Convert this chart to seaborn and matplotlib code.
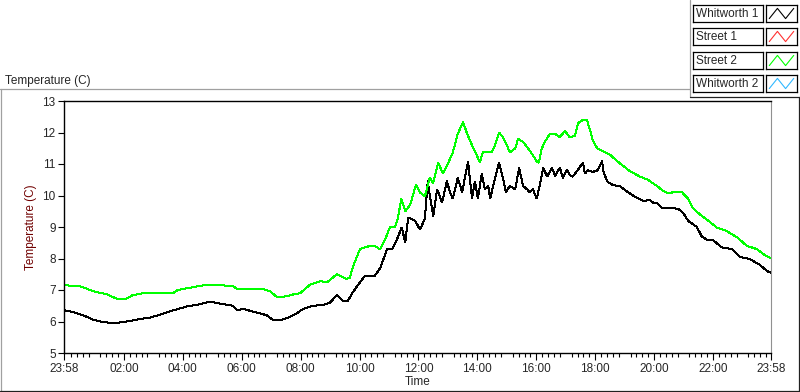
"""Daily temperature trace, LabVIEW-style panel with Whitworth/Street sensors."""
import matplotlib
matplotlib.use("Agg")
import matplotlib.dates as mdates
import matplotlib.pyplot as plt
import matplotlib.ticker as mticker
import pandas as pd
import seaborn as sns
from matplotlib.lines import Line2D

# ── data ──────────────────────────────────────────────────────────────
sensors = ["Whitworth 1", "Street 1", "Street 2", "Whitworth 2"]
colors = ["#000000", "#ff3030", "#00ff00", "#30b8ff"]

whitworth1_time = [
    "23:58", "00:16", "00:37", "00:57", "01:17", "01:42", "02:06", "02:33", "02:53",
    "03:14", "03:40", "04:09", "04:35", "04:55", "05:22", "05:42", "05:50", "06:03",
    "06:31", "06:51", "07:04", "07:18", "07:34", "07:53", "08:05", "08:25", "08:45",
    "09:00", "09:14", "09:26", "09:36", "09:45", "09:55", "10:11", "10:21", "10:31",
    "10:42", "10:56", "11:06", "11:16", "11:26", "11:33", "11:39", "11:53", "12:03",
    "12:13", "12:19", "12:23", "12:30", "12:38", "12:48", "12:58", "13:04", "13:10",
    "13:20", "13:29", "13:35", "13:41", "13:49", "13:55", "14:01", "14:09", "14:15",
    "14:22", "14:26", "14:36", "14:44", "14:52", "14:58", "15:06", "15:17", "15:25",
    "15:33", "15:41", "15:47", "15:53", "16:01", "16:07", "16:14", "16:22", "16:32",
    "16:38", "16:48", "16:54", "17:02", "17:08", "17:14", "17:23", "17:35", "17:39",
    "17:45", "17:55", "18:05", "18:14", "18:16", "18:24", "18:36", "18:50", "19:05",
    "19:17", "19:37", "19:52", "19:58", "20:06", "20:16", "20:32", "20:49", "20:59",
    "21:09", "21:27", "21:37", "21:47", "22:00", "22:18", "22:38", "22:55", "23:15",
    "23:35", "23:50", "23:58",
]
whitworth1_temp = [
    6.36, 6.30, 6.20, 6.06, 5.98, 5.95, 6.00, 6.08, 6.12,
    6.22, 6.35, 6.48, 6.55, 6.63, 6.55, 6.50, 6.36, 6.40,
    6.28, 6.20, 6.04, 6.04, 6.12, 6.27, 6.40, 6.50, 6.52,
    6.60, 6.85, 6.65, 6.65, 6.90, 7.12, 7.45, 7.44, 7.45,
    7.70, 8.29, 8.29, 8.60, 8.99, 8.50, 9.30, 9.20, 8.92,
    9.26, 10.46, 10.00, 9.35, 10.20, 9.77, 10.46, 10.10, 9.90,
    10.56, 10.10, 10.60, 11.08, 9.90, 10.45, 9.90, 10.70, 10.20,
    10.30, 9.90, 10.56, 11.04, 10.56, 10.10, 10.30, 10.20, 10.88,
    10.30, 10.20, 10.10, 10.20, 9.90, 10.33, 10.88, 10.60, 10.88,
    10.62, 10.88, 10.56, 10.82, 10.65, 10.60, 10.78, 11.04, 10.70,
    10.80, 10.75, 10.80, 11.10, 10.80, 10.45, 10.33, 10.30, 10.12,
    10.00, 9.83, 9.85, 9.77, 9.75, 9.60, 9.60, 9.58, 9.45,
    9.20, 9.00, 8.70, 8.60, 8.58, 8.35, 8.30, 8.05, 7.98,
    7.80, 7.60, 7.55,
]

street2_time = [
    "23:58", "00:24", "00:35", "00:57", "01:26", "01:46", "02:06", "02:17", "02:39",
    "03:40", "03:50", "04:21", "04:49", "05:16", "05:42", "05:50", "06:17", "06:43",
    "06:58", "07:12", "07:32", "07:45", "07:59", "08:19", "08:40", "08:54", "09:06",
    "09:14", "09:34", "09:40", "09:47", "10:01", "10:21", "10:31", "10:42", "10:52",
    "11:02", "11:12", "11:18", "11:25", "11:33", "11:43", "11:49", "11:55", "12:03",
    "12:13", "12:23", "12:30", "12:40", "12:50", "12:58", "13:10", "13:20", "13:31",
    "13:39", "13:49", "13:59", "14:05", "14:11", "14:22", "14:29", "14:36", "14:44",
    "14:52", "15:00", "15:06", "15:17", "15:23", "15:33", "15:43", "15:53", "16:01",
    "16:05", "16:11", "16:17", "16:28", "16:38", "16:48", "16:58", "17:08", "17:19",
    "17:25", "17:35", "17:43", "17:49", "17:55", "18:04", "18:16", "18:30", "18:44",
    "18:56", "19:11", "19:31", "19:47", "20:06", "20:18", "20:28", "20:38", "20:57",
    "21:09", "21:19", "21:33", "21:50", "22:08", "22:28", "22:49", "23:09", "23:29",
    "23:46", "23:58",
]
street2_temp = [
    7.15, 7.13, 7.10, 6.96, 6.86, 6.72, 6.73, 6.83, 6.90,
    6.90, 7.00, 7.09, 7.17, 7.15, 7.13, 7.04, 7.04, 7.03,
    6.96, 6.77, 6.80, 6.86, 6.90, 7.17, 7.28, 7.25, 7.40,
    7.50, 7.35, 7.39, 7.76, 8.30, 8.40, 8.40, 8.29, 8.60,
    9.00, 9.00, 9.27, 9.90, 9.50, 9.70, 10.02, 10.35, 10.10,
    9.97, 10.56, 10.40, 11.04, 10.70, 10.94, 11.37, 11.96, 12.33,
    11.96, 11.60, 11.27, 11.04, 11.37, 11.37, 11.37, 11.60, 12.00,
    11.85, 11.60, 11.37, 11.50, 11.80, 11.70, 11.50, 11.28, 11.08,
    11.04, 11.48, 11.70, 11.96, 11.96, 11.85, 12.05, 11.85, 11.90,
    12.30, 12.40, 12.40, 12.10, 11.75, 11.50, 11.40, 11.30, 11.10,
    10.95, 10.77, 10.60, 10.50, 10.30, 10.15, 10.07, 10.10, 10.10,
    9.90, 9.60, 9.40, 9.20, 8.98, 8.87, 8.67, 8.40, 8.30,
    8.10, 8.00,
]

x_tick_labels = ["23:58", "02:00", "04:00", "06:00", "08:00", "10:00", "12:00",
                 "14:00", "16:00", "18:00", "20:00", "22:00", "23:58"]
y_ticks = [5, 6, 7, 8, 9, 10, 11, 12, 13]


def to_stamps(clock):
    """Clock strings -> timestamps, rolling over midnight once."""
    base = pd.Timestamp("2000-01-01")
    out, day, prev = [], 0, None
    for s in clock:
        t = base + pd.Timedelta(days=day, hours=int(s[:2]), minutes=int(s[3:]))
        if prev is not None and t < prev:
            day += 1
            t += pd.Timedelta(days=1)
        out.append(t)
        prev = t
    return out


df = pd.concat([
    pd.DataFrame({"time": to_stamps(whitworth1_time), "temp": whitworth1_temp,
                  "sensor": sensors[0]}),
    pd.DataFrame({"time": to_stamps(street2_time), "temp": street2_temp,
                  "sensor": sensors[2]}),
], ignore_index=True)

# ── figure ────────────────────────────────────────────────────────────
sns.set_style("white")
plt.rcParams["font.family"] = ["Liberation Sans", "DejaVu Sans"]
plt.rcParams["font.size"] = 8.5

W, H = 800, 392
fig = plt.figure(figsize=(W / 100, H / 100), dpi=100)


def fx(px):
    return px / W


def fy(py):
    return 1 - py / H


ax = fig.add_axes([fx(64), fy(353), fx(771) - fx(64), fy(101) - fy(353)])
sns.lineplot(
    data=df, x="time", y="temp", hue="sensor",
    palette={sensors[0]: colors[0], sensors[2]: colors[2]},
    estimator=None, sort=False, legend=False, ax=ax,
)
# thin 1-px aliased traces, like the instrument panel
for ln in ax.lines:
    ln.set_linewidth(0.72)
    ln.set_antialiased(False)
    ln.set_solid_joinstyle("miter")

start = to_stamps(["23:58"])[0]
end = start + pd.Timedelta(days=1)
ax.set_xlim(start, end)
ax.set_ylim(y_ticks[0], y_ticks[-1])

major = [start] + [pd.Timestamp("2000-01-02") + pd.Timedelta(hours=h) for h in range(2, 23, 2)] + [end]
ax.xaxis.set_major_locator(mticker.FixedLocator(mdates.date2num(major)))
ax.xaxis.set_major_formatter(mticker.FixedFormatter(x_tick_labels))
ax.xaxis.set_minor_locator(mdates.MinuteLocator(byminute=[12, 24, 36, 48]))
ax.set_yticks(y_ticks)
ax.tick_params(axis="x", which="major", direction="out", length=5, width=0.8,
               color="black", labelsize=8.5, pad=2, bottom=True)
ax.tick_params(axis="x", which="minor", direction="out", length=3, width=0.8,
               color="black", bottom=True)
ax.tick_params(axis="y", direction="out", length=4, width=0.8, color="black",
               labelsize=8.5, pad=2, left=True)

for side in ["left", "bottom", "top"]:
    ax.spines[side].set_color("black")
    ax.spines[side].set_linewidth(1.0)
ax.spines["right"].set_color("#909090")
ax.spines["right"].set_linewidth(0.8)

ax.set_xlabel("Time", fontsize=8.5, labelpad=1)
ax.set_ylabel("Temperature (C)", fontsize=8.5, color="#700000", labelpad=4)

# ── panel frame + title ───────────────────────────────────────────────
frame = [
    ((0, 690), (89, 89), "#a0a0a0"),
    ((0.5, 0.5), (89, 391), "#a0a0a0"),
    ((0, 800), (391, 391), "#202020"),
    ((799, 799), (97, 391), "#202020"),
    ((690, 690), (0, 97), "#a0a0a0"),
    ((690, 800), (97, 97), "#202020"),
]
for xs, ys, c in frame:
    fig.add_artist(Line2D([fx(x) for x in xs], [fy(y) for y in ys], color=c,
                          linewidth=0.9, transform=fig.transFigure))
fig.text(fx(5), fy(81), "Temperature (C)", fontsize=8.5, va="center", ha="left")

# ── legend (LabVIEW plot legend boxes) ────────────────────────────────
row_top = [5, 28, 52, 75]
for name, color, top in zip(sensors, colors, row_top):
    tb = fig.add_axes([fx(693), fy(top + 17), fx(763) - fx(693), fy(top) - fy(top + 17)])
    tb.set_xticks([])
    tb.set_yticks([])
    for sp in tb.spines.values():
        sp.set_color("black")
        sp.set_linewidth(0.9)
    tb.text(0.04, 0.45, name, fontsize=8.5, va="center", ha="left", transform=tb.transAxes)

    sw = fig.add_axes([fx(766), fy(top + 17), fx(797) - fx(766), fy(top) - fy(top + 17)])
    sw.plot([0, 1, 2, 3], [0.2, 0.8, 0.2, 0.8], color=color, linewidth=0.8)
    sw.set_xlim(-0.4, 3.4)
    sw.set_ylim(0, 1)
    sw.set_xticks([])
    sw.set_yticks([])
    for sp in sw.spines.values():
        sp.set_color("black")
        sp.set_linewidth(0.9)

fig.savefig("out.png", dpi=100)
plt.close(fig)
